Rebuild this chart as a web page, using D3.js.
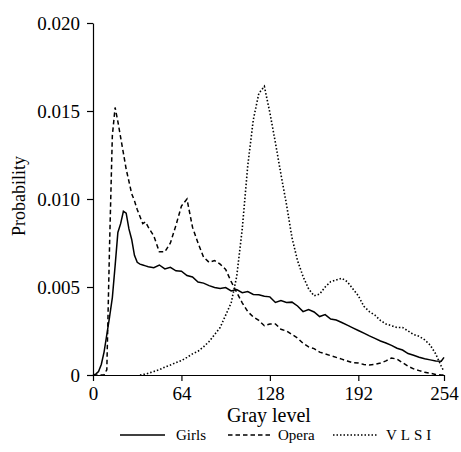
<!DOCTYPE html>
<html>
<head>
<meta charset="utf-8">
<script src="https://cdn.jsdelivr.net/npm/d3@7"></script>
<style>
  body { margin: 0; background: #fff; }
  svg { display: block; }
  svg text { font-family: "Liberation Serif", "Times New Roman", serif; fill: #000; }
  .axis path, .axis line { stroke: #000; stroke-width: 1.2; }
  .axis text { font-size: 19px; }
  .series { fill: none; stroke: #000; }
</style>
</head>
<body>
<script>
var WIDTH = 461;
var HEIGHT = 452;

// gray levels (x), step 2 up to 40 then step 4
var grayLevels = [0,2,4,6,8,10,12,14,16,18,20,22,24,26,28,30,32,34,36,38,40,
  44,48,52,56,60,64,68,72,76,80,84,88,92,96,100,104,108,112,116,120,
  124,128,132,136,140,144,148,152,156,160,164,168,172,176,180,184,188,192,196,200,
  204,208,212,216,220,224,228,232,236,240,244,248,252,254];

var girls = [0,0.00005,0.0002,0.0006,0.0013,0.0023,0.0033,0.0044,0.0062,0.0081,0.0086,0.0093,0.0092,0.0083,0.0077,0.0068,0.0064,0.0063,0.00625,0.0062,0.00615,
  0.0061,0.00625,0.00603,0.00612,0.00592,0.0059,0.00565,0.00557,0.00528,0.00522,
  0.00508,0.00497,0.00492,0.00497,0.00478,0.00485,0.00468,0.00474,0.00458,0.00456,
  0.00447,0.00444,0.00412,0.00423,0.00412,0.00414,0.00392,0.0036,0.00372,0.00358,
  0.00332,0.00343,0.00318,0.00312,0.00298,0.00283,0.00268,0.00253,0.00238,0.00222,
  0.00208,0.00193,0.00182,0.00168,0.00152,0.00142,0.00122,0.00112,0.00101,0.00092,
  0.00086,0.00079,0.00078,0.001];

var opera = [0,0,0,0,0,0.0003,0.0074,0.0136,0.0152,0.0144,0.0135,0.0126,0.0117,0.0110,0.0103,0.0099,0.0094,0.0090,0.0086,0.0087,0.0084,
  0.0079,0.0070,0.0070,0.0075,0.0085,0.0096,0.0100,0.0084,0.0075,0.0067,
  0.0064,0.0065,0.0063,0.0060,0.0053,0.0047,0.0041,0.0036,0.0033,0.0031,
  0.0028,0.0029,0.0029,0.0026,0.0025,0.0023,0.0021,0.0018,0.0016,0.0015,
  0.0013,0.0012,0.0011,0.0010,0.0009,0.0008,0.0007,0.00068,0.0006,0.00057,
  0.0006,0.00068,0.0008,0.00097,0.0009,0.0007,0.0005,0.00035,0.00025,0.00015,
  0.0001,0.00003,0,0];

var vlsi = [null,null,null,null,null,null,null,null,null,null,null,null,null,null,null,null,null,0,0.00003,0.00005,0.0001,
  0.0002,0.0003,0.00045,0.00057,0.0007,0.00082,0.001,0.0012,0.00135,0.0016,
  0.0019,0.0023,0.0027,0.0034,0.0041,0.0056,0.0083,0.0119,0.0145,0.0160,
  0.0164,0.0149,0.0132,0.0114,0.0097,0.0078,0.0065,0.0056,0.0049,0.0045,
  0.0046,0.0050,0.0053,0.0054,0.0055,0.0053,0.0049,0.0045,0.0039,0.0036,
  0.0034,0.0031,0.0029,0.0028,0.0027,0.0027,0.0025,0.0023,0.0022,0.0020,
  0.0017,0.0012,0.0005,0.0002];

var seriesNames = ["Girls", "Opera", "VLSI"];
var xTicks = [0, 64, 128, 192, 254];
var yTicks = [0, 0.005, 0.010, 0.015, 0.020];
var yTickLabels = ["0", "0.005", "0.010", "0.015", "0.020"];

var dashes = { "Girls": null, "Opera": "4.5,3", "VLSI": "1.5,2" };
var widths = { "Girls": 1.5, "Opera": 1.5, "VLSI": 1.6 };

var svg = d3.select("body")
  .append("svg")
  .attr("width", WIDTH)
  .attr("height", HEIGHT);

var x = d3.scaleLinear().domain([0, 254]).range([93, 444]);
var y = d3.scaleLinear().domain([0, 0.020]).range([375, 23]);

var series = [
  { name: "Girls", values: girls },
  { name: "Opera", values: opera },
  { name: "VLSI", values: vlsi }
];

var line = d3.line()
  .defined(d => d[1] != null)
  .x(d => x(d[0]))
  .y(d => y(d[1]));

svg.selectAll("path.series")
  .data(series)
  .enter()
  .append("path")
  .attr("class", "series")
  .attr("d", s => line(grayLevels.map((g, i) => [g, s.values[i]])))
  .attr("stroke-width", s => widths[s.name])
  .attr("stroke-dasharray", s => dashes[s.name]);

// axes
svg.append("g")
  .attr("class", "axis")
  .attr("transform", "translate(0,375)")
  .call(d3.axisBottom(x).tickValues(xTicks).tickSize(6).tickSizeOuter(0).tickPadding(6));

svg.append("g")
  .attr("class", "axis")
  .attr("transform", "translate(93,0)")
  .call(d3.axisLeft(y).tickValues(yTicks).tickSize(6).tickSizeOuter(0).tickPadding(7)
    .tickFormat((d, i) => yTickLabels[i]));

svg.selectAll(".axis").attr("font-family", null).attr("font-size", null);

svg.append("text")
  .attr("x", 269)
  .attr("y", 422)
  .attr("text-anchor", "middle")
  .style("font-size", "20px")
  .text("Gray level");

svg.append("text")
  .attr("transform", "translate(25,196) rotate(-90)")
  .attr("text-anchor", "middle")
  .style("font-size", "18px")
  .text("Probability");

// legend
var legendX = { "Girls": [120, 165, 176], "Opera": [228, 273, 278], "VLSI": [333, 377, 386] };
var legend = svg.selectAll("g.legend")
  .data(seriesNames)
  .enter()
  .append("g")
  .attr("class", "legend");

legend.append("line")
  .attr("x1", d => legendX[d][0])
  .attr("x2", d => legendX[d][1])
  .attr("y1", 435)
  .attr("y2", 435)
  .attr("stroke", "#000")
  .attr("stroke-width", d => widths[d])
  .attr("stroke-dasharray", d => dashes[d]);

legend.append("text")
  .attr("x", d => legendX[d][2])
  .attr("y", 440)
  .style("font-size", "15px")
  .style("letter-spacing", d => d === "VLSI" ? "4px" : null)
  .text(d => d);
</script>
</body>
</html>
